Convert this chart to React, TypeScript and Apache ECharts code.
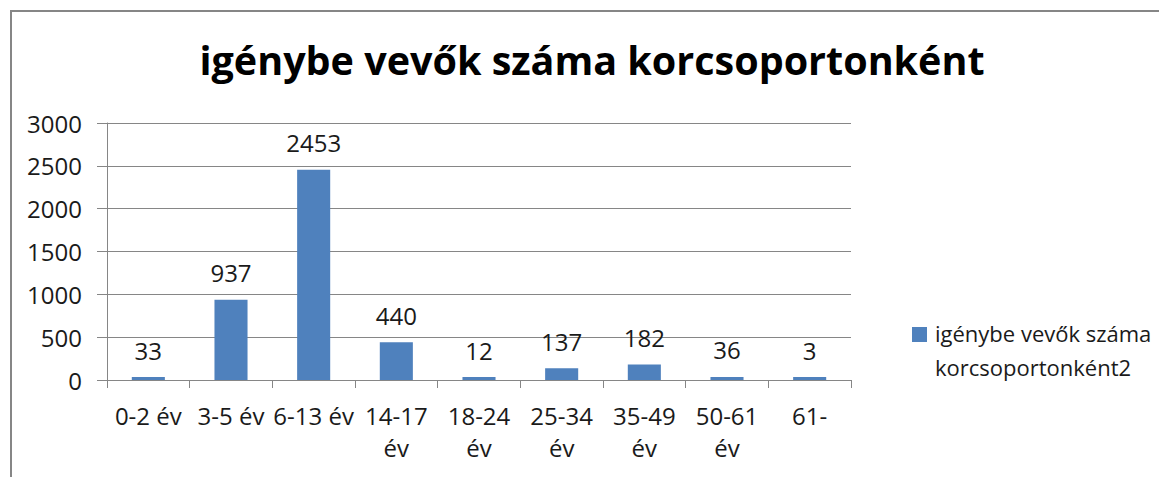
import React, { useEffect, useRef } from "react";
import * as echarts from "echarts";

const categories = [
  "0-2 év",
  "3-5 év",
  "6-13 év",
  "14-17\név",
  "18-24\név",
  "25-34\név",
  "35-49\név",
  "50-61\név",
  "61-",
];
const values = [33, 937, 2453, 440, 12, 137, 182, 36, 3];
const seriesName = "igénybe vevők száma korcsoportonként2";
const titleText = "igénybe vevők száma korcsoportonként";
const yMin = 0;
const yMax = 3000;
const yInterval = 500;

const FONT = "'Open Sans', 'Noto Sans', sans-serif";
const GRAY = "#868686";
const BAR = "#4F81BD";

export default function App() {
  const ref = useRef<HTMLDivElement>(null);
  useEffect(() => {
    if (!ref.current) return;
    const chart = echarts.init(ref.current, undefined, { renderer: "svg" });
    chart.setOption({
      animation: false,
      backgroundColor: "#ffffff",
      title: {
        text: titleText,
        left: 592,
        top: 40,
        padding: 0,
        textAlign: "center",
        textStyle: {
          fontFamily: FONT,
          fontWeight: "bold",
          fontSize: 39.5,
          color: "#000000",
        },
      },
      grid: { left: 107, right: 308, top: 123, bottom: 97, containLabel: false },
      xAxis: {
        type: "category",
        data: categories,
        axisLine: { show: true, lineStyle: { color: GRAY, width: 1 } },
        axisTick: { show: true, length: 8, alignWithLabel: false, lineStyle: { color: GRAY } },
        axisLabel: {
          interval: 0,
          margin: 19,
          fontFamily: FONT,
          fontSize: 24,
          lineHeight: 32,
          color: "#1a1a1a",
        },
        splitLine: { show: false },
      },
      yAxis: {
        type: "value",
        min: yMin,
        max: yMax,
        interval: yInterval,
        axisLine: { show: true, lineStyle: { color: GRAY, width: 1 } },
        axisTick: { show: true, length: 10, lineStyle: { color: GRAY } },
        axisLabel: {
          margin: 25,
          fontFamily: FONT,
          fontSize: 24,
          color: "#1a1a1a",
          formatter: (v: number) => String(v),
        },
        splitLine: { show: true, lineStyle: { color: GRAY, width: 1 } },
      },
      series: [
        {
          name: seriesName,
          type: "bar",
          data: values,
          barWidth: "40%",
          barMinHeight: 3,
          itemStyle: { color: BAR },
          label: {
            show: true,
            position: "top",
            distance: 15,
            fontFamily: FONT,
            fontSize: 24,
            lineHeight: 24,
            color: "#1a1a1a",
          },
        },
      ],
      graphic: [
        {
          type: "rect",
          shape: { x: 11, y: 11, width: 1200, height: 520 },
          style: { fill: "none", stroke: GRAY, lineWidth: 2 },
          silent: true,
        },
        {
          type: "rect",
          shape: { x: 912, y: 327, width: 15, height: 15 },
          style: { fill: BAR },
        },
        {
          type: "text",
          x: 935,
          y: 316,
          style: {
            text: "igénybe vevők száma\nkorcsoportonként2",
            font: `22px ${FONT}`,
            lineHeight: 34,
            fill: "#1a1a1a",
            verticalAlign: "top",
            align: "left",
          },
        },
      ],
    });
    return () => chart.dispose();
  }, []);
  return (
    <div
      ref={ref}
      style={{ position: "fixed", left: 0, top: 0, width: 1159, height: 477 }}
    />
  );
}
